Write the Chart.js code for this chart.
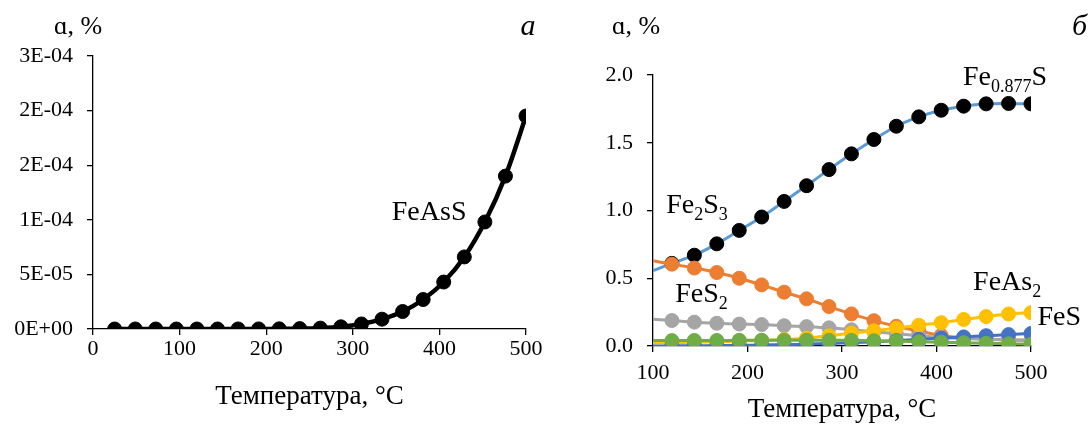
<!DOCTYPE html>
<html><head><meta charset="utf-8">
<script src="https://cdn.jsdelivr.net/npm/chart.js@4.4.0/dist/chart.umd.min.js"></script>
<style>
html,body{margin:0;padding:0;background:#fff;overflow:hidden}
#wrap{position:relative;width:1091px;height:425px;background:#fff}
#cA{position:absolute;left:0;top:0}
#cB{position:absolute;left:545px;top:0}
</style></head><body>
<div id="wrap"><canvas id="cA" width="545" height="425"></canvas><canvas id="cB" width="546" height="425"></canvas></div>
<script>
// ---------- data: panel a ----------
const tempsA = [25, 48.75, 72.5, 96.25, 120, 143.75, 167.5, 191.25, 215, 238.75, 262.5, 286.25, 310, 333.75, 357.5, 381.25, 405, 428.75, 452.5, 476.25, 500];
const feAsS = [0, 0, 0, 0, 0, 0.01e-6, 0.03e-6, 0.07e-6, 0.15e-6, 0.35e-6, 0.8e-6, 2.0e-6, 4.6e-6, 9.0e-6, 1.6e-5, 2.7e-5, 4.3e-5, 6.6e-5, 9.8e-5, 1.40e-4, 1.95e-4];
const xTicksA = [0, 100, 200, 300, 400, 500];
const yTicksA = [0, 5e-5, 1e-4, 1.5e-4, 2e-4, 2.5e-4];
const yTickLabelsA = ['0E+00', '5E-05', '1E-04', '2E-04', '2E-04', '3E-04'];

// ---------- data: panel б ----------
const tempsB = [96.25, 120, 143.75, 167.5, 191.25, 215, 238.75, 262.5, 286.25, 310, 333.75, 357.5, 381.25, 405, 428.75, 452.5, 476.25, 500];
const fe0877S = [0.545, 0.61, 0.67, 0.754, 0.853, 0.952, 1.067, 1.183, 1.302, 1.418, 1.524, 1.622, 1.691, 1.740, 1.770, 1.787, 1.790, 1.787];
const fe2S3 = [0.633, 0.604, 0.575, 0.542, 0.50, 0.451, 0.397, 0.348, 0.291, 0.237, 0.187, 0.145, 0.11, 0.078, 0.06, 0.05, 0.045, 0.04];
const feS2 = [0.20, 0.188, 0.176, 0.168, 0.162, 0.158, 0.15, 0.143, 0.134, 0.12, 0.105, 0.09, 0.075, 0.063, 0.055, 0.05, 0.045, 0.042];
const feAs2 = [0.022, 0.025, 0.028, 0.032, 0.036, 0.041, 0.048, 0.058, 0.075, 0.095, 0.112, 0.131, 0.153, 0.172, 0.196, 0.217, 0.236, 0.246];
const feS = [0, 0.001, 0.002, 0.003, 0.005, 0.007, 0.01, 0.014, 0.019, 0.025, 0.032, 0.04, 0.049, 0.058, 0.067, 0.076, 0.084, 0.092];
const green6 = [0.04, 0.04, 0.041, 0.041, 0.042, 0.042, 0.042, 0.042, 0.042, 0.041, 0.039, 0.036, 0.032, 0.028, 0.024, 0.02, 0.016, 0.013];
const xTicksB = [100, 200, 300, 400, 500];
const yTicksB = [0, 0.5, 1.0, 1.5, 2.0];

const SERIF = "'Liberation Serif','Times New Roman','DejaVu Serif',serif";
const pts = (xs, ys) => xs.map((x, i) => ({x: x, y: ys[i]}));

function axisBase(font, tickPad) {
  return {
    grid: {display: true, drawOnChartArea: false, drawTicks: true, tickLength: 6, color: '#000', lineWidth: 1.3},
    border: {display: true, color: '#000', width: 1.3},
    ticks: {color: '#000', font: {family: SERIF, size: 22}, padding: tickPad, maxRotation: 0, autoSkip: false}
  };
}

// chemical label with subscripts: parts = [[text, isSub], ...]
function drawChem(ctx, parts, x, y, size) {
  let cx = x;
  for (const [t, sub] of parts) {
    ctx.font = (sub ? Math.round(size * 0.66) : size) + 'px ' + SERIF;
    ctx.fillText(t, cx, sub ? y + size * 0.25 : y);
    cx += ctx.measureText(t).width;
  }
}

function labelPlugin(labels, topTexts) {
  return {
    id: 'txt',
    afterDatasetsDraw(chart) {
      const ctx = chart.ctx, xs = chart.scales.x, ys = chart.scales.y;
      ctx.save();
      ctx.fillStyle = '#000';
      ctx.textBaseline = 'alphabetic';
      ctx.textAlign = 'left';
      for (const l of labels) {
        drawChem(ctx, l.parts, xs.getPixelForValue(l.at[0]), ys.getPixelForValue(l.at[1]), 28);
      }
      for (const t of topTexts) {
        ctx.font = t.font;
        ctx.textAlign = t.align;
        ctx.fillText(t.text, t.x, t.y);
      }
      ctx.restore();
    }
  };
}

// ---------- chart a ----------
new Chart(document.getElementById('cA'), {
  type: 'line',
  data: {datasets: [{
    label: 'FeAsS', data: pts(tempsA, feAsS),
    borderColor: '#000', backgroundColor: '#000', borderWidth: 4.5,
    pointRadius: 7, pointBackgroundColor: '#000', pointBorderColor: '#000', pointBorderWidth: 1,
    tension: 0.3, fill: false
  }]},
  options: {
    responsive: false, animation: false, devicePixelRatio: 1,
    layout: {padding: {top: 56, right: 19, left: 0, bottom: 0}},
    plugins: {legend: {display: false}, tooltip: {enabled: false}},
    scales: {
      x: Object.assign(axisBase(22, 1), {
        type: 'linear', min: 0, max: 500,
        afterBuildTicks: s => { s.ticks = xTicksA.map(v => ({value: v})); },
        afterFit: s => { s.height = 96; },
        title: {display: true, text: 'Температура, °C', color: '#000', font: {family: SERIF, size: 27, lineHeight: 1}, padding: {top: 0, bottom: 15}}
      }),
      y: Object.assign(axisBase(22, 14), {
        type: 'linear', min: 0, max: 2.5e-4,
        afterBuildTicks: s => { s.ticks = yTicksA.map(v => ({value: v})); },
        afterFit: s => { s.width = 93; }
      })
    }
  },
  plugins: [labelPlugin(
    [{parts: [['FeAsS', 0]], at: [345, 1.0e-4]}],
    [{text: 'ɑ, %', x: 54, y: 34, align: 'left', font: '26px ' + SERIF},
     {text: 'а', x: 528, y: 35, align: 'center', font: 'italic 30px ' + SERIF}]
  )]
});
// y tick labels for a
Chart.getChart('cA').options.scales.y.ticks.callback = (v, i) => yTickLabelsA[i];
Chart.getChart('cA').update('none');

// ---------- chart б ----------
const hideOut = c => (c.raw && c.raw.x < 100) ? 0 : 7;
function ds(label, ys, line, marker, order) {
  return {label: label, data: pts(tempsB, ys), borderColor: line, backgroundColor: marker,
    borderWidth: 3, pointRadius: hideOut, pointBackgroundColor: marker, pointBorderColor: marker,
    pointBorderWidth: 1, tension: 0.3, fill: false, order: order};
}
new Chart(document.getElementById('cB'), {
  type: 'line',
  data: {datasets: [
    ds('Fe0.877S', fe0877S, '#5B9BD5', '#000000', 6),
    ds('Fe2S3', fe2S3, '#ED7D31', '#ED7D31', 5),
    ds('FeS2', feS2, '#A5A5A5', '#A5A5A5', 4),
    ds('FeAs2', feAs2, '#FFC000', '#FFC000', 3),
    ds('FeS', feS, '#4472C4', '#4472C4', 2),
    ds('Серия 6', green6, '#70AD47', '#70AD47', 1)
  ]},
  options: {
    responsive: false, animation: false, devicePixelRatio: 1,
    layout: {padding: {top: 75, right: 60, left: 0, bottom: 0}},
    plugins: {legend: {display: false}, tooltip: {enabled: false}},
    scales: {
      x: Object.assign(axisBase(22, 8), {
        type: 'linear', min: 100, max: 500,
        afterBuildTicks: s => { s.ticks = xTicksB.map(v => ({value: v})); },
        afterFit: s => { s.height = 79; },
        title: {display: true, text: 'Температура, °C', color: '#000', font: {family: SERIF, size: 27, lineHeight: 1}, padding: {top: 0, bottom: 2}}
      }),
      y: Object.assign(axisBase(22, 14), {
        type: 'linear', min: 0, max: 2,
        afterBuildTicks: s => { s.ticks = yTicksB.map(v => ({value: v})); },
        afterFit: s => { s.width = 108; }
      })
    }
  },
  plugins: [labelPlugin(
    [{parts: [['Fe', 0], ['0.877', 1], ['S', 0]], at: [428, 1.926]},
     {parts: [['Fe', 0], ['2', 1], ['S', 0], ['3', 1]], at: [114, 0.984]},
     {parts: [['FeS', 0], ['2', 1]], at: [123.6, 0.327]},
     {parts: [['FeAs', 0], ['2', 1]], at: [438.7, 0.413]},
     {parts: [['FeS', 0]], at: [506.9, 0.155]}],
    [{text: 'ɑ, %', x: 67, y: 34, align: 'left', font: '26px ' + SERIF},
     {text: 'б', x: 542, y: 35, align: 'right', font: 'italic 30px ' + SERIF}]
  )]
});
Chart.getChart('cB').options.scales.y.ticks.callback = v => v.toFixed(1);
Chart.getChart('cB').update('none');
</script>
</body></html>
